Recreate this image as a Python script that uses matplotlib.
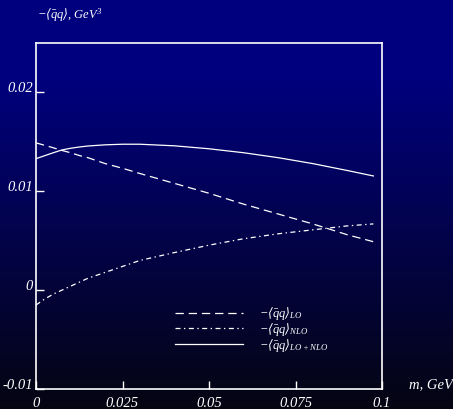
import numpy as np
import matplotlib
matplotlib.use("Agg")
import matplotlib.pyplot as plt

plt.rcParams['font.family'] = ['Liberation Serif', 'DejaVu Serif']
plt.rcParams['font.style'] = 'italic'
plt.rcParams['mathtext.fontset'] = 'custom'
plt.rcParams['mathtext.rm'] = 'Liberation Serif'
plt.rcParams['mathtext.it'] = 'Liberation Serif:italic'
plt.rcParams['mathtext.cal'] = 'DejaVu Serif'
plt.rcParams['mathtext.default'] = 'it'
plt.rcParams['lines.scale_dashes'] = False

# data
m = [0.0, 0.0025, 0.005, 0.0075, 0.01, 0.0125, 0.015, 0.02, 0.025, 0.03, 0.04, 0.05,
     0.06, 0.07, 0.08, 0.09, 0.0975]
lo = [0.0149, 0.01465, 0.0144, 0.01413, 0.0139, 0.01362, 0.0134, 0.0128, 0.01233, 0.0118,
      0.0108, 0.0098, 0.0087, 0.0077, 0.0067, 0.0056, 0.0049]
nlo = [-0.0015, -0.0009, -0.0004, 0.0000, 0.0004, 0.0008, 0.0012, 0.0018, 0.0024, 0.0030,
       0.0038, 0.00455, 0.0052, 0.0057, 0.0061, 0.0065, 0.0067]
total = [0.0133, 0.0136, 0.0139, 0.01418, 0.01435, 0.01448, 0.01458, 0.01470, 0.01476, 0.01476,
         0.0146, 0.0143, 0.0139, 0.0134, 0.0128, 0.0121, 0.01155]
xticks = [0, 0.025, 0.05, 0.075, 0.1]
xticklabels = ['0', '0.025', '0.05', '0.075', '0.1']
yticks = [-0.01, 0, 0.01, 0.02]
yticklabels = ['-0.01', '0', '0.01', '0.02']
labels = [r'$-\mathcal{\langle}\bar{q}q\mathcal{\rangle}_{LO}$',
          r'$-\mathcal{\langle}\bar{q}q\mathcal{\rangle}_{NLO}$',
          r'$-\mathcal{\langle}\bar{q}q\mathcal{\rangle}_{LO+NLO}$']

fig = plt.figure(figsize=(4.53, 4.09), dpi=100)

# background gradient
bg = fig.add_axes([0, 0, 1, 1], zorder=-10)
t = np.linspace(0, 1, 409)
s = np.clip((t - 0.18) / 0.82, 0, 1)
blue = 0.50 - 0.43 * s
rg = 0.0 + 0.02 * s
grad = np.stack([rg, rg, blue], axis=-1)[:, None, :]
grad = np.repeat(grad, 2, axis=1)
bg.imshow(grad, aspect='auto', extent=[0, 1, 0, 1], interpolation='bilinear')
bg.set_axis_off()

ax = fig.add_axes([36/453, 1-389/409, (382-36)/453, (389-43)/409])
ax.set_facecolor('none')
c = 'white'
ax.plot(m, lo, color=c, lw=0.9, linestyle=(0, (6, 3.5)), label=labels[0])
ax.plot(m, nlo, color=c, lw=0.9, linestyle=(0, (3.6, 2.5, 1.0, 2.5)), label=labels[1])
ax.plot(m, total, color=c, lw=0.9, label=labels[2])

ax.set_xlim(0, 0.1)
ax.set_ylim(-0.01, 0.025)
for sp in ax.spines.values():
    sp.set_color(c)
    sp.set_linewidth(1.2)

ax.set_xticks(xticks)
ax.set_xticklabels(xticklabels)
ax.set_yticks(yticks)
ax.set_yticklabels(yticklabels)
ax.tick_params(axis='both', direction='in', length=6, width=1.0, color=c,
               labelcolor=c, labelsize=10.5)
ax.tick_params(axis='x', pad=6)
ax.tick_params(axis='y', pad=2)
for lab in ax.get_yticklabels():
    lab.set_verticalalignment('baseline')

fig.text(37/453, 1-15/409, r'$-\mathcal{\langle}\bar{q}q\mathcal{\rangle}$, GeV$^3$', color=c,
         fontsize=9, va='center', ha='left')
fig.text(409/453, 1-385/409, 'm, GeV', color=c, fontsize=10.5, va='center', ha='left')

leg = ax.legend(loc='lower left', bbox_to_anchor=(0.37, 0.07), frameon=False,
                fontsize=9, handlelength=5.4, handletextpad=1.3, labelspacing=-0.1,
                labelcolor=c)

fig.savefig('out.png', dpi=100)
